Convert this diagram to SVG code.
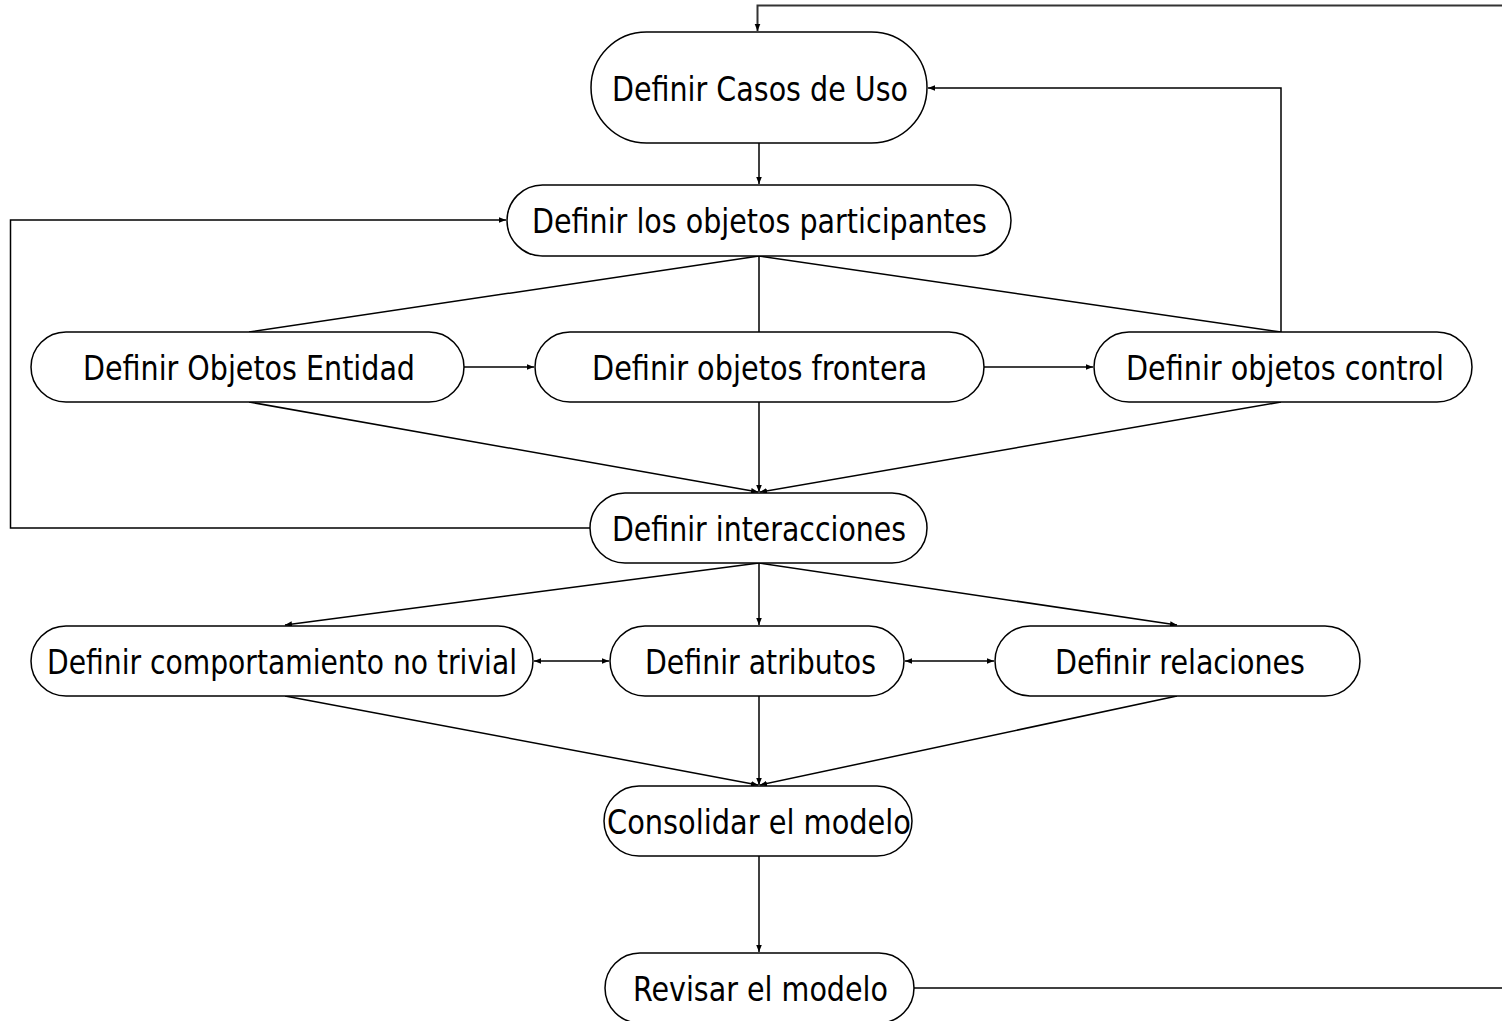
<svg xmlns="http://www.w3.org/2000/svg" width="1502" height="1021" viewBox="0 0 1502 1021">
<style>
.n{fill:#fff;stroke:#000;stroke-width:1.5}
.t{font-family:"DejaVu Sans Condensed","DejaVu Sans",sans-serif;font-size:34px;fill:#000;text-anchor:middle}
.c{fill:none;stroke:#000;stroke-width:1.5}
</style>
<defs>
<marker id="a" viewBox="0 0 10 10" refX="10" refY="5" markerWidth="7" markerHeight="7" markerUnits="userSpaceOnUse" orient="auto-start-reverse"><path d="M0,1 L10,5 L0,9 Z" fill="#000"/></marker>
</defs>
<rect width="1502" height="1021" fill="#fff"/>
<g id="connectors">
<path d="M1502,5.5 H757.5 V31" fill="none" stroke="#333" stroke-width="2" marker-end="url(#a)"/>
<path class="c" d="M759,143 V184" marker-end="url(#a)"/>
<path class="c" d="M1281,332 V88 H928" marker-end="url(#a)"/>
<path class="c" d="M759,256 L249,332 M759,256 V332 M759,256 L1281,332"/>
<path class="c" d="M464,367 H534" marker-end="url(#a)"/>
<path class="c" d="M984,367 H1093" marker-end="url(#a)"/>
<path class="c" d="M249,402 L758,492" marker-end="url(#a)"/>
<path class="c" d="M759,402 V492" marker-end="url(#a)"/>
<path class="c" d="M1281,402 L760,492" marker-end="url(#a)"/>
<path class="c" d="M590,528 H10.5 V220 H506" marker-end="url(#a)"/>
<path class="c" d="M759,563 L285,625" marker-end="url(#a)"/>
<path class="c" d="M759,563 V625" marker-end="url(#a)"/>
<path class="c" d="M759,563 L1177,625" marker-end="url(#a)"/>
<path class="c" d="M534,661 H609" marker-start="url(#a)" marker-end="url(#a)"/>
<path class="c" d="M905,661 H994" marker-start="url(#a)" marker-end="url(#a)"/>
<path class="c" d="M285,696 L758,785" marker-end="url(#a)"/>
<path class="c" d="M759,696 V785" marker-end="url(#a)"/>
<path class="c" d="M1177,696 L760,785" marker-end="url(#a)"/>
<path class="c" d="M759,856 V952" marker-end="url(#a)"/>
<path class="c" d="M914,988 H1502"/>
</g>
<g id="n1"><rect class="n" x="591" y="32" width="336" height="111" rx="55.5"/><text class="t" x="760" y="101" textLength="296" lengthAdjust="spacingAndGlyphs">Definir Casos de Uso</text></g>
<g id="n2"><rect class="n" x="507" y="185" width="504" height="71" rx="35.5"/><text class="t" x="759.5" y="233" textLength="455" lengthAdjust="spacingAndGlyphs">Definir los objetos participantes</text></g>
<g id="n3"><rect class="n" x="31" y="332" width="433" height="70" rx="35"/><text class="t" x="249" y="380" textLength="332" lengthAdjust="spacingAndGlyphs">Definir Objetos Entidad</text></g>
<g id="n4"><rect class="n" x="535" y="332" width="449" height="70" rx="35"/><text class="t" x="759.5" y="380" textLength="335" lengthAdjust="spacingAndGlyphs">Definir objetos frontera</text></g>
<g id="n5"><rect class="n" x="1094" y="332" width="378" height="70" rx="35"/><text class="t" x="1285" y="380" textLength="318" lengthAdjust="spacingAndGlyphs">Definir objetos control</text></g>
<g id="n6"><rect class="n" x="590" y="493" width="337" height="70" rx="35"/><text class="t" x="759" y="541" textLength="294" lengthAdjust="spacingAndGlyphs">Definir interacciones</text></g>
<g id="n7"><rect class="n" x="31" y="626" width="502" height="70" rx="35"/><text class="t" x="282" y="674" textLength="470" lengthAdjust="spacingAndGlyphs">Definir comportamiento no trivial</text></g>
<g id="n8"><rect class="n" x="610" y="626" width="294" height="70" rx="35"/><text class="t" x="760.5" y="674" textLength="231" lengthAdjust="spacingAndGlyphs">Definir atributos</text></g>
<g id="n9"><rect class="n" x="995" y="626" width="365" height="70" rx="35"/><text class="t" x="1180" y="674" textLength="250" lengthAdjust="spacingAndGlyphs">Definir relaciones</text></g>
<g id="n10"><rect class="n" x="604" y="786" width="308" height="70" rx="35"/><text class="t" x="759" y="834" textLength="304" lengthAdjust="spacingAndGlyphs">Consolidar el modelo</text></g>
<g id="n11"><rect class="n" x="605" y="953" width="309" height="70" rx="35"/><text class="t" x="760.5" y="1001" textLength="255" lengthAdjust="spacingAndGlyphs">Revisar el modelo</text></g>
</svg>
